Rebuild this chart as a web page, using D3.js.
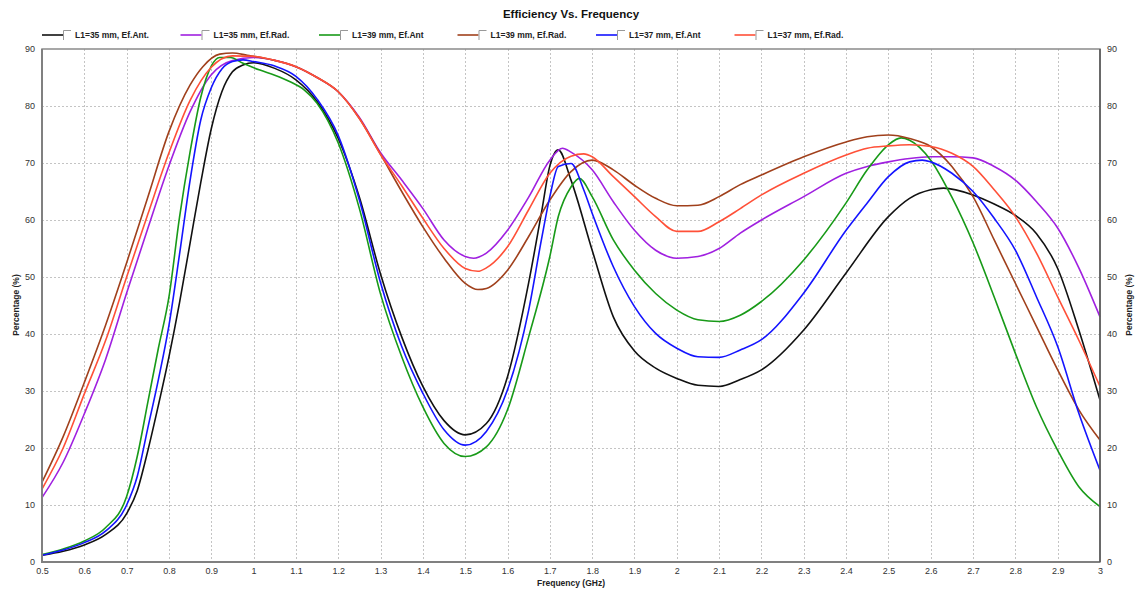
<!DOCTYPE html>
<html>
<head>
<meta charset="utf-8">
<script src="https://cdnjs.cloudflare.com/ajax/libs/d3/7.8.5/d3.min.js"></script>
<style>
  html, body { margin: 0; padding: 0; background: #fff; }
  svg { display: block; font-family: "Liberation Sans", Arial, sans-serif; }
</style>
</head>
<body>
<svg id="chart" width="1136" height="590"></svg>
<script>
// series as [GHz, %] pairs
var seriesNames = ['L1=35 mm, Ef.Ant.', 'L1=35 mm, Ef.Rad.', 'L1=39 mm, Ef.Ant', 'L1=39 mm, Ef.Rad.', 'L1=37 mm, Ef.Ant', 'L1=37 mm, Ef.Rad.'];
var seriesColors = ['#111111', '#a020e0', '#189a18', '#a0401c', '#1414ff', '#ff5038'];

var ant35 = [[0.5,1.2],[0.55,1.9],[0.6,3.0],[0.65,4.8],[0.7,8.5],[0.725,12.5],[0.75,19.5],[0.775,27.5],[0.8,36],[0.825,45.5],[0.85,56],[0.875,66.5],[0.9,76],
  [0.925,82.5],[0.95,86],[0.975,87.2],[1.0,87.6],[1.05,86.6],[1.1,84.6],[1.15,80.8],[1.2,74.3],[1.25,64],[1.3,50.5],[1.35,39.5],[1.4,30.8],[1.45,24.8],[1.5,22.3],
  [1.55,24.3],[1.6,32.5],[1.65,49],[1.68,61.2],[1.7,69.5],[1.72,72.3],[1.75,67],[1.8,54.7],[1.85,43],[1.9,37],[1.95,34],[2.0,32.2],[2.05,31],[2.1,30.8],
  [2.15,32],[2.2,33.7],[2.3,40.7],[2.4,50.7],[2.5,60.6],[2.55,63.8],[2.6,65.3],[2.63,65.6],[2.7,64.4],[2.75,62.8],[2.8,60.8],[2.85,57.6],[2.9,51.5],[2.95,40.7],[3.0,28.4]];

var rad35 = [[0.5,11.3],[0.55,17.5],[0.6,26],[0.65,35.5],[0.7,47.2],[0.75,58.5],[0.8,69.5],[0.85,79],[0.9,85.5],[0.95,88],[1.0,88.5],[1.05,88],[1.1,86.9],[1.15,85],
  [1.2,82.5],[1.25,78],[1.3,71.8],[1.35,67],[1.4,62],[1.45,56.5],[1.5,53.6],[1.52,53.3],[1.55,54.2],[1.6,58.2],[1.65,64],[1.7,70.5],[1.73,72.6],[1.75,71.9],
  [1.8,68.8],[1.85,63.2],[1.9,58.2],[1.95,54.7],[2.0,53.3],[2.05,53.6],[2.1,55],[2.15,57.7],[2.2,60],[2.3,64.1],[2.4,68.2],[2.45,69.4],[2.5,70.2],[2.55,70.8],
  [2.6,71.1],[2.65,71.1],[2.7,70.9],[2.75,69.4],[2.8,67],[2.85,63.2],[2.9,58.6],[2.95,51.6],[3.0,43]];

var ant39 = [[0.5,1.3],[0.55,2.3],[0.6,3.7],[0.65,6],[0.7,11.5],[0.725,18.5],[0.75,28],[0.775,37.5],[0.8,46.5],[0.825,60.5],[0.85,72],[0.875,81.5],[0.9,87],
  [0.92,88.5],[0.945,88.5],[0.975,87.5],[1.015,86.3],[1.05,85.4],[1.085,84.3],[1.12,82.8],[1.15,80.5],[1.2,73.5],[1.25,62],[1.3,47],[1.35,36],[1.4,27.2],
  [1.45,20.8],[1.5,18.5],[1.55,20.2],[1.6,26.7],[1.65,39.5],[1.7,53.6],[1.72,60.6],[1.75,65.8],[1.77,67.3],[1.8,64.1],[1.85,56.5],[1.9,51.2],[1.95,47.1],
  [2.0,44.2],[2.05,42.5],[2.1,42.2],[2.15,43.3],[2.2,45.7],[2.3,53],[2.4,63],[2.45,68.8],[2.5,73.2],[2.53,74.4],[2.55,74],[2.6,70.5],[2.65,64],[2.7,56],
  [2.75,46.5],[2.8,36.6],[2.85,27.2],[2.9,19.6],[2.95,13.2],[3.0,9.7]];

var rad39 = [[0.5,14],[0.55,22],[0.6,31.5],[0.65,41.5],[0.7,52.5],[0.75,64],[0.8,75.5],[0.85,83.7],[0.88,86.9],[0.92,89.1],
  [0.95,89.3],[0.985,88.9],[1.05,88],[1.1,86.9],[1.15,85],[1.2,82.5],[1.25,77.8],[1.3,71.5],[1.35,65],[1.4,58.8],[1.45,53.3],[1.5,48.9],[1.53,47.8],[1.55,48],
  [1.6,51.2],[1.65,57.1],[1.7,63.5],[1.75,68.5],[1.8,70.5],[1.85,68.8],[1.9,66.1],[1.95,63.8],[2.0,62.5],[2.05,62.6],[2.1,64.1],[2.15,66.2],[2.2,67.9],
  [2.3,71.1],[2.4,73.7],[2.45,74.6],[2.5,74.9],[2.55,74.3],[2.6,72.9],[2.65,69.4],[2.7,64.1],[2.75,56.5],[2.8,48.9],[2.85,41.3],[2.9,33.7],[2.95,26.7],[3.0,21.4]];

var ant37 = [[0.5,1.2],[0.55,2.1],[0.6,3.4],[0.65,5.4],[0.7,10],[0.725,15],[0.75,23.5],[0.775,32],[0.8,41.5],[0.825,54],[0.85,67],[0.875,77.5],[0.9,83.2],
  [0.925,86.5],[0.95,87.8],[0.975,88.1],[1.0,87.8],[1.05,87],[1.1,85.2],[1.15,81.2],[1.2,74.8],[1.25,63.5],[1.3,49],[1.35,37.8],[1.4,29.6],[1.45,23.2],
  [1.5,20.5],[1.55,22.9],[1.6,30.2],[1.65,44.2],[1.68,56.5],[1.7,64.1],[1.72,69.4],[1.75,69.9],[1.78,65.3],[1.8,61.2],[1.85,51.8],[1.9,44.8],[1.95,40.1],
  [2.0,37.5],[2.05,36],[2.1,35.9],[2.15,37.2],[2.2,39],[2.3,47.2],[2.4,58.2],[2.45,63],[2.5,67.6],[2.55,70.2],[2.58,70.5],[2.6,70.2],[2.65,68.2],[2.7,65],
  [2.75,60.3],[2.8,54.7],[2.85,46.5],[2.9,37.8],[2.95,26.1],[3.0,16.1]];

var rad37 = [[0.5,12.8],[0.55,20],[0.6,29.5],[0.65,38.8],[0.7,50],[0.75,61],[0.8,71.8],[0.85,81],[0.9,86.8],[0.95,88.8],[1.0,88.7],[1.05,88],[1.1,86.9],[1.15,85],
  [1.2,82.5],[1.25,77.8],[1.3,71.5],[1.35,66],[1.4,60.3],[1.45,55],[1.5,51.5],[1.53,51],
  [1.55,51.6],[1.6,55.3],[1.65,61.8],[1.7,68.2],[1.75,71.2],[1.78,71.6],[1.8,71.1],[1.85,67.6],[1.9,64.1],[1.95,60.6],[2.0,58],[2.05,58],[2.1,59.7],[2.15,62],
  [2.2,64.4],[2.3,68.2],[2.4,71.4],[2.45,72.6],[2.5,73],[2.55,73.2],[2.6,72.9],[2.65,71.7],[2.7,69.4],[2.75,65.3],[2.8,60.6],[2.85,54.2],[2.9,46.5],[2.95,38.9],[3.0,30.8]];

var xTicks = [0.5, 0.6, 0.7, 0.8, 0.9, 1, 1.1, 1.2, 1.3, 1.4, 1.5, 1.6, 1.7, 1.8, 1.9, 2, 2.1, 2.2, 2.3, 2.4, 2.5, 2.6, 2.7, 2.8, 2.9, 3];
var yTicks = [0, 10, 20, 30, 40, 50, 60, 70, 80, 90];

(function () {
  'use strict';
  var svg = d3.select('#chart');
  var plot = { left: 42, right: 1100, top: 49, bottom: 562 };
  var allSeries = [ant35, rad35, ant39, rad39, ant37, rad37];

  var x = d3.scaleLinear().domain([0.5, 3]).range([plot.left, plot.right]);
  var y = d3.scaleLinear().domain([0, 90]).range([plot.bottom, plot.top]);

  // grid
  var grid = svg.append('g').attr('stroke', '#c4c4c4').attr('stroke-dasharray', '2,2').attr('stroke-width', 1);
  grid.selectAll('line.v').data(xTicks.slice(1, -1)).enter().append('line')
    .attr('x1', function (d) { return Math.round(x(d)) + 0.5; })
    .attr('x2', function (d) { return Math.round(x(d)) + 0.5; })
    .attr('y1', plot.top).attr('y2', plot.bottom);
  grid.selectAll('line.h').data(yTicks.slice(1, -1)).enter().append('line')
    .attr('y1', function (d) { return Math.round(y(d)) + 0.5; })
    .attr('y2', function (d) { return Math.round(y(d)) + 0.5; })
    .attr('x1', plot.left).attr('x2', plot.right);

  // axes (labels only, frame drawn below)
  var fmt = function (d) { return String(d); };
  var xAxis = svg.append('g').attr('transform', 'translate(0,' + plot.bottom + ')')
    .call(d3.axisBottom(x).tickValues(xTicks).tickFormat(fmt).tickSize(0).tickPadding(6));
  var yLeft = svg.append('g').attr('transform', 'translate(' + plot.left + ',0)')
    .call(d3.axisLeft(y).tickValues(yTicks).tickSize(0).tickPadding(7));
  var yRight = svg.append('g').attr('transform', 'translate(' + plot.right + ',0)')
    .call(d3.axisRight(y).tickValues(yTicks).tickSize(0).tickPadding(7));
  [xAxis, yLeft, yRight].forEach(function (g) {
    g.select('.domain').remove();
    g.selectAll('text').attr('fill', '#333').style('font-size', '9px').style('font-family', '"Liberation Sans", Arial, sans-serif');
  });

  // curves
  var line = d3.line()
    .x(function (d) { return x(d[0]); })
    .y(function (d) { return y(d[1]); })
    .curve(d3.curveMonotoneX);
  svg.append('g').selectAll('path').data(allSeries).enter().append('path')
    .attr('d', line)
    .attr('fill', 'none')
    .attr('stroke', function (d, i) { return seriesColors[i]; })
    .attr('stroke-width', 1.6)
    .attr('stroke-linejoin', 'round');

  // frame
  svg.append('rect').attr('x', plot.left).attr('y', plot.top)
    .attr('width', plot.right - plot.left).attr('height', plot.bottom - plot.top)
    .attr('fill', 'none').attr('stroke', '#8a8a8a').attr('stroke-width', 1.5);
  svg.append('path').attr('d', 'M' + plot.left + ',' + plot.top + 'V' + plot.bottom + 'H' + plot.right)
    .attr('fill', 'none').attr('stroke', '#808080').attr('stroke-width', 2);
  svg.append('line').attr('x1', plot.right).attr('x2', plot.right).attr('y1', plot.top).attr('y2', plot.bottom)
    .attr('stroke', '#555').attr('stroke-width', 1.5);

  // titles
  svg.append('text').attr('x', 571).attr('y', 18).attr('text-anchor', 'middle')
    .style('font-size', '11.5px').style('font-weight', 'bold').attr('fill', '#111')
    .text('Efficiency Vs. Frequency');
  svg.append('text').attr('x', 571).attr('y', 586).attr('text-anchor', 'middle')
    .style('font-size', '8.5px').style('font-weight', 'bold').attr('fill', '#222')
    .text('Frequency (GHz)');
  [16, 1129].forEach(function (cx) {
    svg.append('text').attr('transform', 'translate(' + cx + ',' + 305 + ') rotate(-90)')
      .attr('text-anchor', 'middle').attr('dy', '0.35em')
      .style('font-size', '8.5px').style('font-weight', 'bold').attr('fill', '#222')
      .text('Percentage (%)');
  });

  // legend
  var legend = svg.append('g').selectAll('g').data(seriesNames).enter().append('g')
    .attr('transform', function (d, i) { return 'translate(' + (42 + i * 138.5) + ',35)'; });
  legend.append('line').attr('x1', 0).attr('x2', 21).attr('y1', 0).attr('y2', 0)
    .attr('stroke', function (d, i) { return seriesColors[i]; }).attr('stroke-width', 1.6);
  legend.append('path').attr('d', 'M21.5,5V-4.5H29').attr('fill', 'none').attr('stroke', '#999').attr('stroke-width', 1);
  legend.append('text').attr('x', 33).attr('y', 0).attr('dy', '0.35em')
    .style('font-size', '8.5px').style('font-weight', 'bold').attr('fill', '#222')
    .text(function (d) { return d; });
})();
</script>
</body>
</html>
